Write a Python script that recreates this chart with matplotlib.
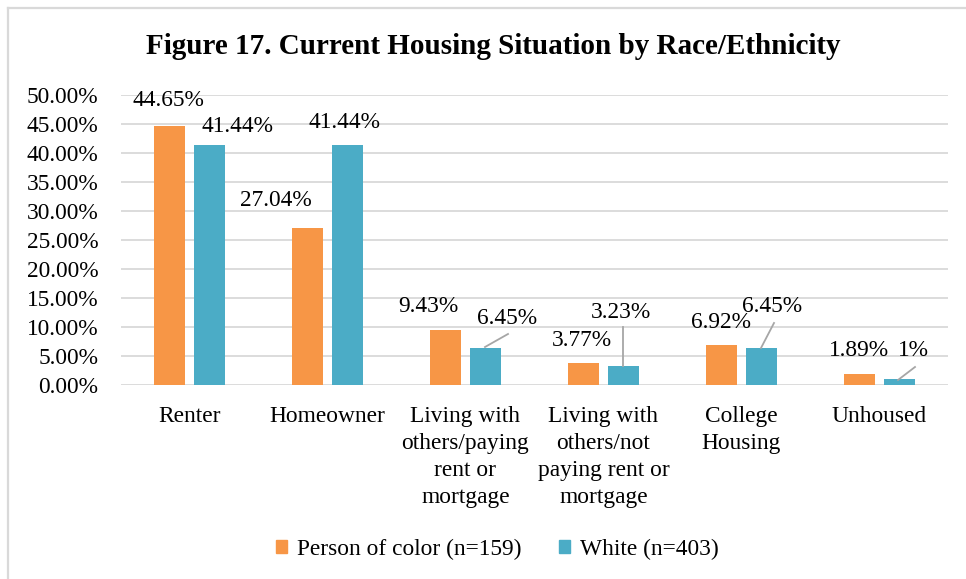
import matplotlib
matplotlib.use("Agg")
import matplotlib.pyplot as plt
import numpy as np
from matplotlib.lines import Line2D
from matplotlib.patches import Patch

categories = ["Renter", "Homeowner", "Living with\nothers/paying\nrent or\nmortgage",
              "Living with\nothers/not\npaying rent or\nmortgage", "College\nHousing", "Unhoused"]
poc = [44.65, 27.04, 9.43, 3.77, 6.92, 1.89]
white = [41.44, 41.44, 6.45, 3.23, 6.45, 1.0]
poc_labels = ["44.65%", "27.04%", "9.43%", "3.77%", "6.92%", "1.89%"]
white_labels = ["41.44%", "41.44%", "6.45%", "3.23%", "6.45%", "1%"]
series_names = ["Person of color (n=159)", "White (n=403)"]
title = "Figure 17. Current Housing Situation by Race/Ethnicity"

ORANGE = "#F79646"
TEAL = "#4BACC6"
GRID = "#D9D9D9"
FONT = ["Liberation Serif", "DejaVu Serif"]
FS = 16.8

plt.rcParams['font.family'] = FONT

W, H = 966, 579
fig = plt.figure(figsize=(W / 100, H / 100), dpi=100)

# border
fig.add_artist(Line2D([8 / W, 8 / W], [0, 1 - 8 / H], transform=fig.transFigure, color=GRID, lw=1.6))
fig.add_artist(Line2D([8 / W, 1], [1 - 8 / H, 1 - 8 / H], transform=fig.transFigure, color=GRID, lw=1.6))

ax = fig.add_axes([120.5 / W, 1 - 385 / H, 828 / W, 290 / H])
x = np.arange(len(categories))
bw = 0.225
off = 0.145
ax.bar(x - off, poc, bw, color=ORANGE, zorder=3)
ax.bar(x + off, white, bw, color=TEAL, zorder=3)

ax.set_xlim(-0.5, len(categories) - 0.5)
ax.set_ylim(0, 50)
ax.set_yticks(np.arange(0, 50.1, 5))
ax.set_yticklabels([f"{v:.2f}%" for v in np.arange(0, 50.1, 5)], family=FONT)
ax.yaxis.grid(True, color=GRID, lw=1.3, zorder=0)
ax.set_axisbelow(True)
for s in ax.spines.values():
    s.set_visible(False)
ax.tick_params(axis='y', length=0, pad=16, labelsize=FS)
ax.tick_params(axis='x', length=0, pad=15, labelsize=FS)
ax.set_xticks(x)
ax.set_xticklabels(categories, linespacing=1.38, va='top', family=FONT)

def px2y(py):
    return (385 - py) / 290 * 50

def px2x(px):
    return (px - 120.5) / 138 - 0.5

poc_pos = [(168, 101), (276, 200), (428, 306), (582, 340), (721, 322), (859, 350)]
white_pos = [(238, 126), (345, 122), (507, 319), (621, 312), (772, 307), (913, 350)]
leaders = {2: ((485, 347), (508, 334)), 3: ((623, 366), (623, 327)),
           4: ((761, 348), (774, 323)), 5: ((898, 380), (915, 367))}
for i in range(len(categories)):
    px, py = poc_pos[i]
    ax.text(px2x(px), px2y(py), poc_labels[i], ha='center', va='center', fontsize=FS,
            family=FONT, zorder=5)
    px, py = white_pos[i]
    ax.text(px2x(px), px2y(py), white_labels[i], ha='center', va='center', fontsize=FS,
            family=FONT, zorder=5)
    if i in leaders:
        (x0, y0), (x1, y1) = leaders[i]
        ax.plot([px2x(x0), px2x(x1)], [px2y(y0), px2y(y1)], color="#A6A6A6", lw=1.3,
                zorder=4, clip_on=False)

fig.text(493 / W, 1 - 47 / H, title, ha='center', va='center', fontsize=21,
         fontweight='bold', family=FONT)

handles = [Patch(color=ORANGE), Patch(color=TEAL)]
fig.legend(handles, series_names, loc='center', bbox_to_anchor=(497 / W, 1 - 549 / H), ncol=2,
           frameon=False, prop={'family': FONT, 'size': FS}, handlelength=0.5,
           handleheight=0.5, handletextpad=0.4, columnspacing=1.6)

fig.savefig("out.png", dpi=100)
